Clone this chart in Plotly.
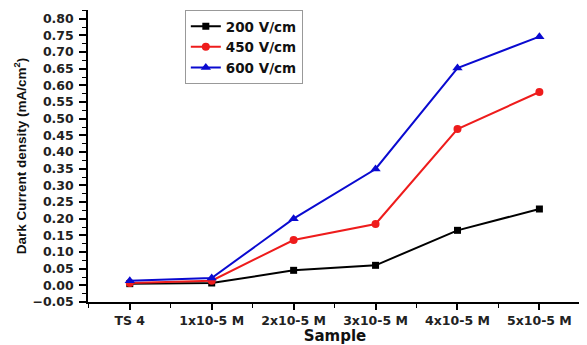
import plotly.graph_objects as go

samples = ["TS 4", "1x10-5 M", "2x10-5 M", "3x10-5 M", "4x10-5 M", "5x10-5 M"]
series_names = ["200 V/cm", "450 V/cm", "600 V/cm"]
v200 = [0.005, 0.007, 0.045, 0.060, 0.165, 0.229]
v450 = [0.007, 0.014, 0.136, 0.184, 0.469, 0.580]
v600 = [0.014, 0.022, 0.200, 0.349, 0.652, 0.746]

colors = ["#000000", "#ee1c1c", "#0a0ad0"]
symbols = ["square", "circle", "triangle-up"]
msizes = [7, 8, 9]

x = list(range(len(samples)))
fig = go.Figure()
for name, vals, c, s, ms in zip(series_names, [v200, v450, v600], colors, symbols, msizes):
    fig.add_trace(go.Scatter(x=x, y=vals, mode="lines+markers", name=name,
                             line=dict(color=c, width=2),
                             marker=dict(symbol=s, size=ms, color=c)))

tickfont = dict(family="DejaVu Sans", size=12.5, color="#222", weight="bold")
fig.update_layout(
    width=579, height=337,
    margin=dict(l=80, r=5, t=2, b=43),
    plot_bgcolor="white", paper_bgcolor="white",
    showlegend=True,
    legend=dict(x=0.196, y=1.0, xanchor="left", yanchor="top",
                bordercolor="#999", borderwidth=1, bgcolor="white",
                font=dict(family="DejaVu Sans", size=13.5, color="#111", weight="bold"),
                tracegroupgap=0),
    xaxis=dict(range=[-0.51, 5.52], tickmode="array", tickvals=x, ticktext=samples,
               automargin=False, tickangle=0,
               showgrid=False, zeroline=False, showline=True, linecolor="black", linewidth=1.5,
               ticks="outside", ticklen=6, tickwidth=1.5, tickcolor="black", tickfont=tickfont,
               minor=dict(tickmode="array", tickvals=[i + 0.5 for i in range(-1, 6)],
                          ticks="outside", ticklen=4, tickwidth=1, tickcolor="black"),
               title=dict(text="Sample", standoff=4,
                          font=dict(family="DejaVu Sans", size=15, color="#111", weight="bold"))),
    yaxis=dict(range=[-0.05, 0.826], tickmode="linear", tick0=-0.05, dtick=0.05,
               automargin=False,
               tickformat=".2f", showgrid=False, zeroline=False, showline=True,
               linecolor="black", linewidth=1.5, ticks="outside", ticklen=7, tickwidth=1.5,
               tickcolor="black", tickfont=tickfont, ticklabelstandoff=3,
               minor=dict(tick0=-0.025, dtick=0.05, ticks="outside", ticklen=4,
                          tickwidth=1, tickcolor="black"),
               title=dict(text="Dark Current density (mA/cm<sup>2</sup>)", standoff=3,
                          font=dict(family="Liberation Sans", size=13.5, color="#111", weight="bold"))),
)
fig.write_html("out.html")
